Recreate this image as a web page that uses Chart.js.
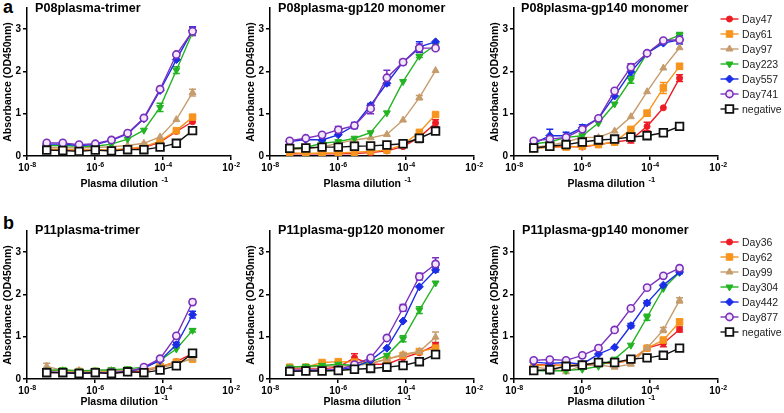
<!DOCTYPE html>
<html>
<head>
<meta charset="utf-8">
<script src="https://cdn.jsdelivr.net/npm/chart.js@4.4.0/dist/chart.umd.min.js"></script>
<style>
  body { margin: 0; background: #fff; width: 784px; height: 413px; position: relative; overflow: hidden;
         font-family: "Liberation Sans", Arial, sans-serif; }
  canvas { position: absolute; }
  .ttl { position: absolute; font-weight: bold; font-size: 12.6px; line-height: 16px; white-space: nowrap; color: #000; }
  .lbl { position: absolute; font-weight: bold; font-size: 18px; line-height: 18px; color: #000; }
  .leg { position: absolute; font-size: 10.5px; line-height: 15px; color: #222; white-space: nowrap; }
</style>
</head>
<body>
<div class="lbl" style="left:3px;top:-2px">a</div>
<div class="lbl" style="left:3px;top:214px">b</div>

<canvas id="a1" width="242" height="195" style="left:1px;top:0px"></canvas>
<canvas id="a2" width="242" height="195" style="left:244px;top:0px"></canvas>
<canvas id="a3" width="242" height="195" style="left:488px;top:0px"></canvas>
<canvas id="b1" width="242" height="190" style="left:1px;top:223px"></canvas>
<canvas id="b2" width="242" height="190" style="left:244px;top:223px"></canvas>
<canvas id="b3" width="242" height="190" style="left:488px;top:223px"></canvas>

<div class="ttl" style="left:35px;top:0px">P08plasma-trimer</div>
<div class="ttl" style="left:278px;top:0px">P08plasma-gp120 monomer</div>
<div class="ttl" style="left:521px;top:0px">P08plasma-gp140 monomer</div>
<div class="ttl" style="left:35px;top:222px">P11plasma-trimer</div>
<div class="ttl" style="left:278px;top:222px">P11plasma-gp120 monomer</div>
<div class="ttl" style="left:522px;top:222px">P11plasma-gp140 monomer</div>

<canvas id="legA" width="24" height="110" style="left:718px;top:10px"></canvas>
<canvas id="legB" width="24" height="110" style="left:718px;top:233px"></canvas>
<div id="legAText"></div>
<div id="legBText"></div>

<script>
// x values: plasma dilution (3-fold series)
const dilutions = [3.8e-8, 1.13e-7, 3.4e-7, 1.02e-6, 3.05e-6, 9.1e-6, 2.74e-5, 8.2e-5, 2.47e-4, 7.4e-4];
const xTickValues = [1e-8, 1e-6, 1e-4, 1e-2];
const xTickBase = '10';
const xTickExps = ['-8', '-6', '-4', '-2'];
const yTickValues = [0, 1, 2, 3];

const p08Series = ['Day47', 'Day61', 'Day97', 'Day223', 'Day557', 'Day741', 'negative'];
const p11Series = ['Day36', 'Day62', 'Day99', 'Day304', 'Day442', 'Day877', 'negative'];

// rows follow the series order above
const p08Trimer = [
  [0.15, 0.15, 0.13, 0.14, 0.14, 0.16, 0.20, 0.33, 0.58, 0.81],
  [0.16, 0.16, 0.14, 0.15, 0.15, 0.17, 0.22, 0.35, 0.60, 0.92],
  [0.20, 0.20, 0.19, 0.20, 0.22, 0.25, 0.30, 0.45, 0.86, 1.50],
  [0.25, 0.25, 0.23, 0.23, 0.28, 0.40, 0.61, 1.15, 2.03, 2.92],
  [0.28, 0.28, 0.25, 0.27, 0.37, 0.52, 0.88, 1.55, 2.28, 2.97],
  [0.31, 0.31, 0.27, 0.29, 0.38, 0.54, 0.90, 1.58, 2.40, 2.95],
  [0.14, 0.13, 0.11, 0.14, 0.12, 0.15, 0.15, 0.21, 0.30, 0.60]
];
const p08Gp120 = [
  [0.05, 0.05, 0.05, 0.05, 0.06, 0.08, 0.12, 0.22, 0.44, 0.78],
  [0.08, 0.06, 0.07, 0.07, 0.09, 0.11, 0.14, 0.27, 0.56, 0.98],
  [0.15, 0.17, 0.22, 0.30, 0.38, 0.43, 0.51, 0.85, 1.38, 2.02],
  [0.17, 0.20, 0.30, 0.34, 0.42, 0.55, 1.02, 1.76, 2.36, 2.62],
  [0.34, 0.39, 0.38, 0.50, 0.72, 1.20, 1.72, 2.22, 2.58, 2.70],
  [0.36, 0.42, 0.50, 0.62, 0.72, 1.12, 1.85, 2.22, 2.55, 2.55],
  [0.18, 0.19, 0.21, 0.21, 0.23, 0.24, 0.26, 0.29, 0.42, 0.59]
];
const p08Gp140 = [
  [0.20, 0.21, 0.23, 0.21, 0.27, 0.33, 0.38, 0.70, 1.14, 1.84],
  [0.17, 0.21, 0.21, 0.23, 0.27, 0.33, 0.63, 1.01, 1.61, 2.12],
  [0.21, 0.25, 0.33, 0.44, 0.44, 0.59, 0.93, 1.52, 2.08, 2.56],
  [0.29, 0.33, 0.44, 0.48, 0.78, 1.23, 1.80, 2.43, 2.70, 2.86],
  [0.29, 0.48, 0.48, 0.67, 0.89, 1.42, 1.99, 2.43, 2.67, 2.75],
  [0.36, 0.40, 0.44, 0.63, 0.89, 1.54, 2.10, 2.43, 2.73, 2.75],
  [0.19, 0.23, 0.27, 0.33, 0.38, 0.40, 0.45, 0.48, 0.55, 0.70]
];
const p11Trimer = [
  [0.15, 0.15, 0.14, 0.15, 0.15, 0.16, 0.18, 0.28, 0.41, 0.60],
  [0.20, 0.19, 0.18, 0.18, 0.19, 0.20, 0.22, 0.30, 0.40, 0.47],
  [0.30, 0.20, 0.20, 0.19, 0.20, 0.21, 0.22, 0.26, 0.36, 0.48],
  [0.21, 0.22, 0.19, 0.21, 0.22, 0.24, 0.28, 0.44, 0.71, 1.15],
  [0.16, 0.15, 0.14, 0.15, 0.15, 0.17, 0.26, 0.44, 0.81, 1.52],
  [0.17, 0.15, 0.14, 0.15, 0.15, 0.17, 0.28, 0.48, 1.02, 1.82],
  [0.15, 0.15, 0.13, 0.15, 0.13, 0.17, 0.15, 0.21, 0.31, 0.61]
];
const p11Gp120 = [
  [0.24, 0.24, 0.24, 0.28, 0.50, 0.35, 0.35, 0.50, 0.62, 0.80],
  [0.28, 0.28, 0.39, 0.41, 0.40, 0.37, 0.47, 0.56, 0.65, 0.73],
  [0.27, 0.28, 0.30, 0.30, 0.32, 0.36, 0.47, 0.58, 0.65, 0.99],
  [0.28, 0.30, 0.32, 0.35, 0.32, 0.40, 0.56, 0.95, 1.63, 2.27],
  [0.20, 0.21, 0.21, 0.22, 0.28, 0.44, 0.73, 1.37, 2.18, 2.58],
  [0.20, 0.19, 0.20, 0.22, 0.34, 0.50, 0.97, 1.68, 2.42, 2.72],
  [0.18, 0.19, 0.19, 0.20, 0.23, 0.25, 0.28, 0.32, 0.41, 0.58]
];
const p11Gp140 = [
  [0.34, 0.33, 0.32, 0.32, 0.38, 0.38, 0.44, 0.73, 0.84, 1.17],
  [0.32, 0.32, 0.32, 0.34, 0.38, 0.39, 0.44, 0.73, 0.92, 1.35],
  [0.28, 0.24, 0.17, 0.32, 0.33, 0.28, 0.35, 0.73, 1.16, 1.86],
  [0.20, 0.19, 0.20, 0.23, 0.30, 0.47, 0.80, 1.46, 2.14, 2.52],
  [0.40, 0.37, 0.39, 0.35, 0.59, 0.75, 1.26, 1.80, 2.22, 2.53],
  [0.44, 0.46, 0.44, 0.56, 0.73, 1.16, 1.67, 2.16, 2.44, 2.62],
  [0.20, 0.22, 0.30, 0.33, 0.39, 0.39, 0.47, 0.50, 0.56, 0.73]
];

// error bars: [series, point, +/-]
const p08TrimerErr = [[5,9,0.10],[4,9,0.08],[3,7,0.10],[3,8,0.08],[2,9,0.08],[1,9,0.04]];
const p08Gp120Err = [[5,3,0.08],[5,5,0.12],[5,6,0.18],[5,7,0.06],[5,8,0.10],[4,4,0.07],[4,8,0.12],
                     [0,9,0.08],[1,9,0.04],[6,8,0.10],[3,8,0.03],[2,8,0.05]];
const p08Gp140Err = [[4,0,0.12],[4,1,0.15],[4,2,0.08],[4,3,0.07],[4,6,0.10],[3,6,0.08],[5,6,0.08],[3,9,0.06],
                     [4,9,0.10],[1,5,0.07],[1,7,0.07],[1,8,0.13],[1,9,0.07],[0,6,0.07],[0,7,0.10],[0,9,0.08]];
const p11TrimerErr = [[2,0,0.07],[4,8,0.06],[4,9,0.08],[5,9,0.06],[3,9,0.04]];
const p11Gp120Err = [[5,7,0.08],[5,8,0.08],[5,9,0.15],[0,4,0.10],[2,9,0.12],[3,7,0.07],[3,8,0.08],
                     [4,9,0.05],[0,9,0.06],[6,8,0.08],[6,9,0.04]];
const p11Gp140Err = [[4,0,0.08],[4,6,0.05],[4,7,0.05],[3,7,0.07],[2,8,0.06],[2,9,0.06],[1,8,0.06],
                     [1,9,0.07],[0,8,0.08],[0,9,0.06],[4,9,0.04]];

const colors = ['#ed1c24', '#f7941d', '#c69c6d', '#22b422', '#1b2ee6', '#7b2fbe', '#111111'];
const fills = ['#ed1c24', '#f7941d', '#c69c6d', '#22b422', '#1b2ee6', '#f2e8f8', '#ffffff'];
const styles = ['circle', 'rect', 'triangle', 'triangle', 'rectRot', 'circle', 'rect'];
const rotations = [0, 0, 0, 180, 0, 0, 0];
const radii = [3, 4.6, 4, 4, 4, 3.6, 5.4];
const borders = [1, 1, 1, 1, 1, 1.6, 1.8];

const FONT = '"Liberation Sans", Arial, sans-serif';

const errorBars = {
  id: 'errorBars',
  beforeDatasetsDraw(chart, args, opts) {
    const ctx = chart.ctx, ys = chart.scales.y;
    (opts.list || []).forEach(([s, i, e]) => {
      const pt = chart.getDatasetMeta(s).data[i];
      const v = chart.data.datasets[s].data[i].y;
      const yt = ys.getPixelForValue(v + e), yb = ys.getPixelForValue(v - e);
      ctx.save();
      ctx.strokeStyle = colors[s];
      ctx.lineWidth = 1.5;
      ctx.beginPath();
      ctx.moveTo(pt.x, yt); ctx.lineTo(pt.x, yb);
      ctx.moveTo(pt.x - 3.5, yt); ctx.lineTo(pt.x + 3.5, yt);
      ctx.moveTo(pt.x - 3.5, yb); ctx.lineTo(pt.x + 3.5, yb);
      ctx.stroke();
      ctx.restore();
    });
  }
};

// draws "10" with a raised exponent under each x tick, and the x title with its "-1"
function drawSup(ctx, base, exp, cx, y, baseSize, expSize, rise) {
  ctx.font = 'bold ' + baseSize + 'px ' + FONT;
  const w1 = ctx.measureText(base).width;
  ctx.font = 'bold ' + expSize + 'px ' + FONT;
  const w2 = ctx.measureText(exp).width;
  const x0 = cx - (w1 + w2) / 2;
  ctx.textAlign = 'left';
  ctx.font = 'bold ' + baseSize + 'px ' + FONT;
  ctx.fillText(base, x0, y);
  ctx.font = 'bold ' + expSize + 'px ' + FONT;
  ctx.fillText(exp, x0 + w1 + 0.5, y - rise);
}
const logLabels = {
  id: 'logLabels',
  afterDraw(chart, args, opts) {
    const ctx = chart.ctx, xs = chart.scales.x;
    ctx.save();
    ctx.fillStyle = '#000';
    ctx.textBaseline = 'alphabetic';
    xTickValues.forEach((v, i) => {
      drawSup(ctx, xTickBase, xTickExps[i], xs.getPixelForValue(v), xs.top + 14.5, 10, 7, 4);
    });
    drawSup(ctx, 'Plasma dilution ', '-1', (xs.left + xs.right) / 2 - 5, xs.top + opts.titleOffset, 10.5, 7.5, 5);
    ctx.restore();
  }
};

function makePanel(id, names, values, errs, topPad, xHeight, titleOffset) {
  const datasets = values.map((row, k) => ({
    label: names[k],
    data: row.map((v, i) => ({ x: dilutions[i], y: v })),
    borderColor: colors[k],
    backgroundColor: fills[k],
    pointBackgroundColor: fills[k],
    pointBorderColor: colors[k],
    pointStyle: styles[k],
    pointRotation: rotations[k],
    pointRadius: radii[k],
    pointBorderWidth: borders[k],
    borderWidth: 1.4,
    tension: 0,
    order: names.length - k
  }));
  const tickFont = { family: FONT, size: 10, weight: 'bold' };
  const titleFont = { family: FONT, size: 10.5, weight: 'bold' };
  new Chart(document.getElementById(id), {
    type: 'line',
    data: { datasets },
    options: {
      responsive: false,
      animation: false,
      layout: { padding: { left: 0, right: 12, top: topPad, bottom: 0 } },
      plugins: {
        legend: { display: false }, tooltip: { enabled: false },
        errorBars: { list: errs }, logLabels: { titleOffset }
      },
      scales: {
        x: {
          type: 'logarithmic', min: 1e-8, max: 1e-2,
          afterBuildTicks: s => { s.ticks = xTickValues.map(v => ({ value: v })); },
          afterFit: s => { s.height = xHeight; },
          ticks: { display: false },
          grid: { display: true, drawOnChartArea: false, drawTicks: true, tickLength: 4, color: '#000', lineWidth: 1.5 },
          border: { display: true, color: '#000', width: 1.5 }
        },
        y: {
          min: 0, max: 3.5,
          afterBuildTicks: s => { s.ticks = yTickValues.map(v => ({ value: v })); },
          afterFit: s => { s.width = 26; },
          ticks: { font: tickFont, color: '#000', padding: 2 },
          grid: { display: true, drawOnChartArea: false, drawTicks: true, tickLength: 4, color: '#000', lineWidth: 1.5 },
          border: { display: true, color: '#000', width: 1.5 },
          title: { display: true, text: 'Absorbance (OD450nm)', font: titleFont, color: '#000', padding: { top: 1, bottom: 0 } }
        }
      }
    },
    plugins: [errorBars, logLabels]
  });
}

makePanel('a1', p08Series, p08Trimer, p08TrimerErr, 4, 39, 31);
makePanel('a2', p08Series, p08Gp120, p08Gp120Err, 4, 39, 31);
makePanel('a3', p08Series, p08Gp140, p08Gp140Err, 4, 39, 31);
makePanel('b1', p11Series, p11Trimer, p11TrimerErr, 4.5, 34, 26);
makePanel('b2', p11Series, p11Gp120, p11Gp120Err, 4.5, 34, 26);
makePanel('b3', p11Series, p11Gp140, p11Gp140Err, 4.5, 34, 26);

// legends: short line with the series marker, then the name
function drawMarker(ctx, k, x, y) {
  const r = radii[k];
  ctx.fillStyle = fills[k];
  ctx.strokeStyle = colors[k];
  ctx.lineWidth = borders[k];
  ctx.beginPath();
  if (styles[k] === 'circle') {
    ctx.arc(x, y, r, 0, Math.PI * 2);
  } else if (styles[k] === 'rect') {
    const h = r * Math.SQRT1_2;
    ctx.rect(x - h, y - h, 2 * h, 2 * h);
  } else if (styles[k] === 'rectRot') {
    ctx.moveTo(x, y - r); ctx.lineTo(x + r, y); ctx.lineTo(x, y + r); ctx.lineTo(x - r, y);
  } else {
    const d = rotations[k] ? -1 : 1;
    ctx.moveTo(x, y - d * r); ctx.lineTo(x + r * 0.87, y + d * r * 0.5); ctx.lineTo(x - r * 0.87, y + d * r * 0.5);
  }
  ctx.closePath();
  ctx.fill();
  ctx.stroke();
}

function makeLegend(canvasId, textId, names, top) {
  const ctx = document.getElementById(canvasId).getContext('2d');
  const box = document.getElementById(textId);
  names.forEach((name, k) => {
    const y = 9 + k * 15;
    ctx.strokeStyle = colors[k];
    ctx.lineWidth = 1.4;
    ctx.beginPath(); ctx.moveTo(2.5, y); ctx.lineTo(20.5, y); ctx.stroke();
    drawMarker(ctx, k, 11.5, y);
    const t = document.createElement('div');
    t.className = 'leg';
    t.style.left = '742px';
    t.style.top = (top + y - 7.5) + 'px';
    t.textContent = name;
    box.appendChild(t);
  });
}
makeLegend('legA', 'legAText', p08Series, 10);
makeLegend('legB', 'legBText', p11Series, 233);
</script>
</body>
</html>
